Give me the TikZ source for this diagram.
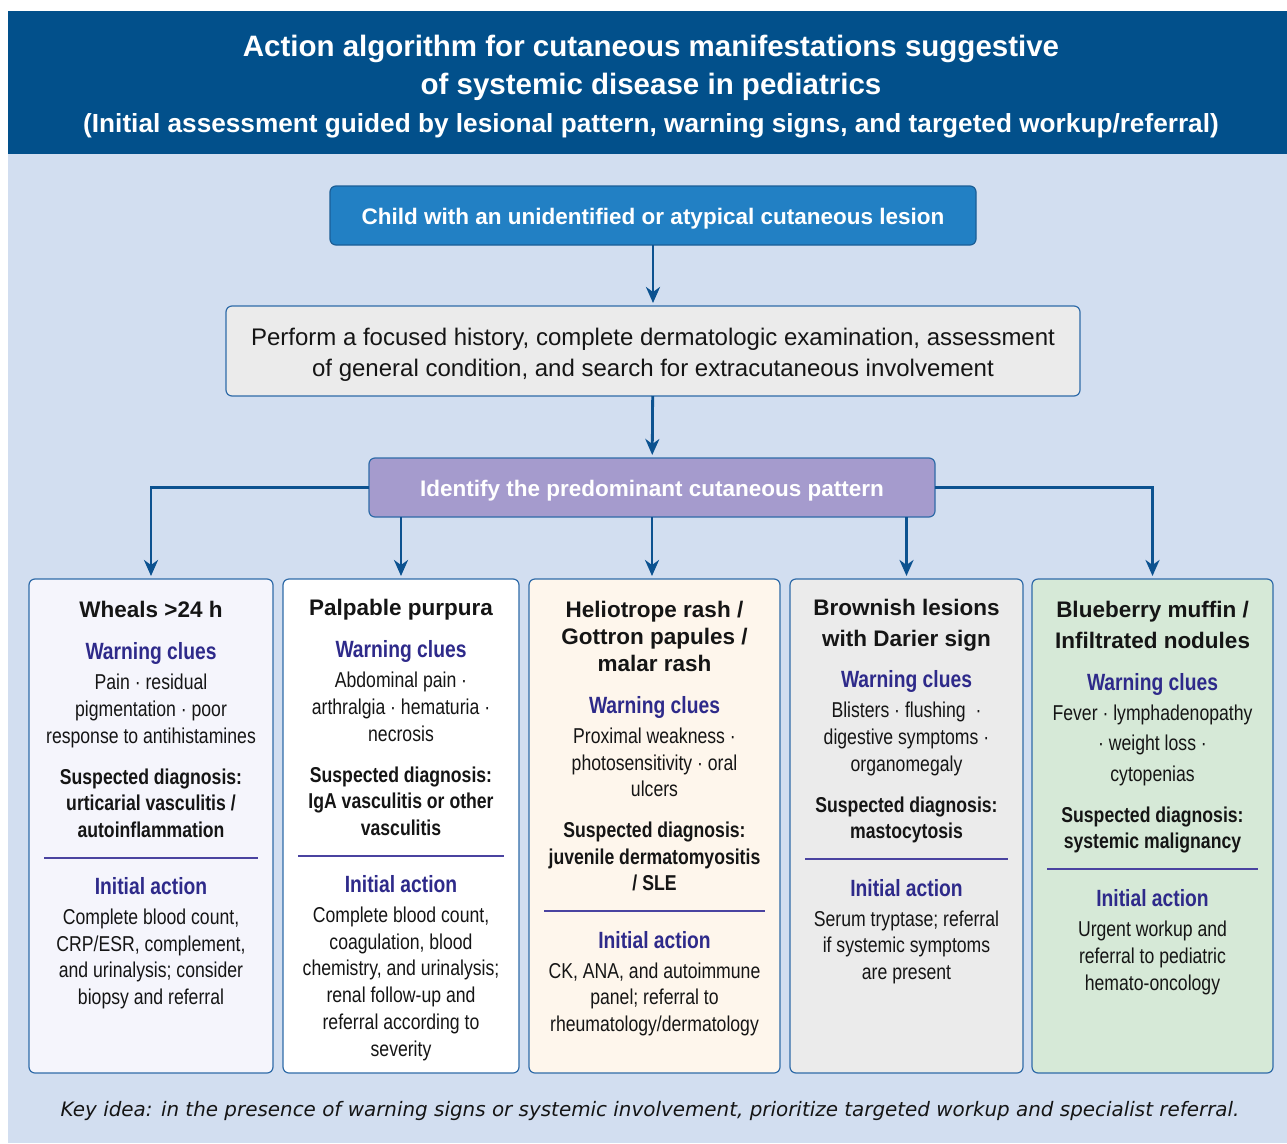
\documentclass[tikz,border=0pt]{standalone}
\usepackage{fontspec}
\setmainfont{Liberation Sans}
\newfontfamily\condfont{Liberation Sans}[FakeStretch=0.82]
\newfontfamily\notefont{DejaVu Sans}
\usetikzlibrary{arrows.meta}
\usetikzlibrary{positioning}

\definecolor{headblue}{HTML}{02508B}
\definecolor{paleblue}{HTML}{D2DEF0}
\definecolor{startblue}{HTML}{2280C4}
\definecolor{startedge}{HTML}{1B5E96}
\definecolor{examgray}{HTML}{EBEBEB}
\definecolor{patternlilac}{HTML}{A59BCD}
\definecolor{boxedge}{HTML}{2F6BA8}
\definecolor{arrowblue}{HTML}{0C5290}
\definecolor{cluecol}{HTML}{2E2A8A}
\definecolor{rulecol}{HTML}{4A43A0}
\definecolor{ink}{HTML}{151515}
\definecolor{fillwheal}{HTML}{F5F5FC}
\definecolor{fillpurp}{HTML}{FFFFFF}
\definecolor{fillhelio}{HTML}{FEF6EC}
\definecolor{filldarier}{HTML}{EBEBEB}
\definecolor{fillmuffin}{HTML}{D6E9D7}

\newcommand{\natspaces}{\spaceskip=0pt\xspaceskip=0pt\leftskip=0pt plus 1fill\rightskip=0pt plus 1fill\relax}
\newcommand{\coltitle}[2][28]{{\natspaces\fontsize{22.5}{#1}\selectfont\bfseries #2\par}}
\newcommand{\cluehead}[2]{{\natspaces\condfont\bfseries\color{cluecol}\fontsize{23.5}{#1}\selectfont #2\par}}
\newcommand{\cluebody}[2][26.7]{\vspace{\dimexpr30pt-#1pt\relax}{\natspaces\condfont\fontsize{21.5}{#1}\selectfont #2\par}}
\newcommand{\suspdx}[1]{\vspace{14.5pt}{\natspaces\condfont\bfseries\fontsize{21.5}{26.5}\selectfont #1\par}}
\newcommand{\colrule}{{\fontsize{21.5}{28}\selectfont\leavevmode\textcolor{rulecol}{\rule[6.5pt]{\dimexpr\linewidth-18pt\relax}{2.2pt}}\par}}

\begin{document}
\begin{tikzpicture}[x=1pt,y=-1pt,
    every node/.style={inner sep=0pt, outer sep=0pt, text=ink},
    shorten >=3pt,
    node distance=61pt,
    stepbox/.style={draw, rounded corners=6pt, line width=1.2pt, align=center},
    colbox/.style={draw=boxedge, rounded corners=6pt, line width=1.2pt, minimum height=494pt},
    coltext/.style={align=center, execute at begin node={\setlength\parfillskip{0pt}}},
    arr/.style={draw=arrowblue, line width=2.8pt, -{Stealth[length=16pt,width=14pt,inset=5pt]}}
  ]
  \useasboundingbox (0,0) rectangle (1287,1143);
  \fill[paleblue] (8,154) rectangle (1287,1143);
  \fill[headblue] (8,11) rectangle (1287,154);

  \node (title) [anchor=north, text width=1260pt, align=center, text=white] at (651,35)
    {\natspaces{\fontsize{29.5}{38}\selectfont\bfseries Action algorithm for cutaneous manifestations suggestive\\ of systemic disease in pediatrics\par}
     {\fontsize{26.2}{38}\selectfont\bfseries (Initial assessment guided by lesional pattern, warning signs, and targeted workup/referral)\par}};

  \node [stepbox] (start) [fill=startblue, draw=startedge, minimum width=646pt, minimum height=59pt, text=white,
    font=\fontsize{22.5}{27}\selectfont\bfseries] at (653,215.5) {\rule{0pt}{23.5pt}Child with an unidentified or atypical cutaneous lesion};
  \node [stepbox] (exam) [fill=examgray, draw=boxedge, minimum width=854pt, minimum height=90pt,
    font=\fontsize{24}{31}\selectfont, below=of start] {\rule{0pt}{25.5pt}Perform a focused history, complete dermatologic examination, assessment\\ of general condition, and search for extracutaneous involvement};
  \node [stepbox] (pattern) [fill=patternlilac, draw=boxedge, minimum width=566pt, minimum height=59pt, text=white,
    font=\fontsize{22.5}{27}\selectfont\bfseries, below=62pt of exam, xshift=-1pt] {\rule{0pt}{23.5pt}Identify the predominant cutaneous pattern};

  \node [colbox] (c1) [fill=fillwheal, minimum width=244pt, anchor=north west] at (29,579) {};
  \node [colbox] (c2) [fill=fillpurp, minimum width=236pt, right=10pt of c1] {};
  \node [colbox] (c3) [fill=fillhelio, minimum width=251pt, right=10pt of c2] {};
  \node [colbox] (c4) [fill=filldarier, minimum width=233pt, right=10pt of c3] {};
  \node [colbox] (c5) [fill=fillmuffin, minimum width=241pt, right=9pt of c4] {};

  \node [coltext, text width=232pt] (t1) [below=22.5pt of c1.north] {
    \coltitle{Wheals >24 h}
    \cluehead{42}{Warning clues}
    \cluebody{Pain · residual\\ pigmentation · poor\\ response to antihistamines}
    \suspdx{Suspected diagnosis:\\ urticarial vasculitis /\\ autoinflammation}
    \colrule
    \cluehead{29.3}{Initial action}
    \cluebody{Complete blood count,\\ CRP/ESR, complement,\\ and urinalysis; consider\\ biopsy and referral}};
  \node [coltext, text width=224pt] (t2) [below=20.5pt of c2.north] {
    \coltitle{Palpable purpura}
    \cluehead{42}{Warning clues}
    \cluebody{Abdominal pain ·\\ arthralgia · hematuria ·\\ necrosis}
    \suspdx{Suspected diagnosis:\\ IgA vasculitis or other\\ vasculitis}
    \colrule
    \cluehead{29.3}{Initial action}
    \cluebody{Complete blood count,\\ coagulation, blood\\ chemistry, and urinalysis;\\ renal follow-up and\\ referral according to\\ severity}};
  \node [coltext, text width=239pt] (t3) [below=22pt of c3.north] {
    \coltitle[27]{Heliotrope rash /\\ Gottron papules /\\ malar rash}
    \cluehead{42}{Warning clues}
    \cluebody{Proximal weakness ·\\ photosensitivity · oral\\ ulcers}
    \suspdx{Suspected diagnosis:\\ juvenile dermatomyositis\\ / SLE}
    \colrule
    \cluehead{29.3}{Initial action}
    \cluebody{CK, ANA, and autoimmune\\ panel; referral to\\ rheumatology/dermatology}};
  \node [coltext, text width=221pt] (t4) [below=20.5pt of c4.north] {
    \coltitle[31]{Brownish lesions\\ with Darier sign}
    \cluehead{41}{Warning clues}
    \cluebody{Blisters · flushing~~·\\ digestive symptoms ·\\ organomegaly}
    \suspdx{Suspected diagnosis:\\ mastocytosis}
    \colrule
    \cluehead{29.3}{Initial action}
    \cluebody{Serum tryptase; referral\\ if systemic symptoms\\ are present}};
  \node [coltext, text width=229pt] (t5) [below=22pt of c5.north] {
    \coltitle[31]{Blueberry muffin /\\ Infiltrated nodules}
    \cluehead{42}{Warning clues}
    \cluebody[30.5]{Fever · lymphadenopathy\\ · weight loss ·\\ cytopenias}
    \suspdx{Suspected diagnosis:\\ systemic malignancy}
    \colrule
    \cluehead{29.3}{Initial action}
    \cluebody[27]{Urgent workup and\\ referral to pediatric\\ hemato-oncology}};

  \path [arr] (start) -- (exam);
  \path [arr] (exam) -- (pattern);
  \path [arr] (pattern.west) -| (c1.north);
  \path [arr] (pattern.south -| c2.north) -- (c2.north);
  \path [arr] (pattern.south) -- (pattern.south |- c3.north);
  \path [arr] (pattern.south -| c4.north) -- (c4.north);
  \path [arr] (pattern.east) -| (c5.north);

  \node (keyidea) [font=\notefont\itshape\fontsize{19.9}{24}\selectfont] at (650,1111)
    {Key idea: in the presence of warning signs or systemic involvement, prioritize targeted workup and specialist referral.};
\end{tikzpicture}
\end{document}
